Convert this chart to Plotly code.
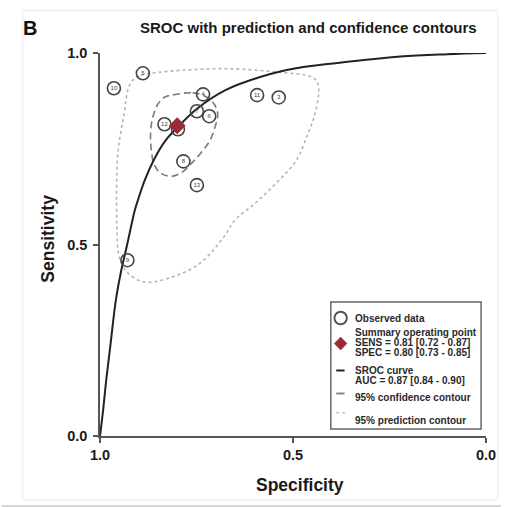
import plotly.graph_objects as go

# ---- data -------------------------------------------------------------
study_labels = ["10", "5", "4", "7", "6", "12", "1", "8", "13", "11", "3", "9"]
spec_obs = [0.964, 0.889, 0.733, 0.749, 0.717, 0.833, 0.798, 0.784, 0.749, 0.593, 0.537, 0.929]
sens_obs = [0.908, 0.947, 0.892, 0.848, 0.835, 0.814, 0.801, 0.717, 0.655, 0.890, 0.884, 0.459]

summary_spec = 0.80
summary_sens = 0.81

# SROC curve (specificity, sensitivity)
sroc_spec = [1.000, 0.992, 0.984, 0.973, 0.959, 0.945, 0.930, 0.910, 0.902, 0.884, 0.859,
             0.830, 0.798, 0.748, 0.675, 0.583, 0.492, 0.385, 0.222, 0.100, 0.000]
sroc_sens = [0.000, 0.067, 0.145, 0.237, 0.354, 0.432, 0.498, 0.589, 0.615, 0.668, 0.724,
             0.772, 0.807, 0.855, 0.903, 0.938, 0.960, 0.974, 0.991, 0.997, 1.000]

# 95% confidence region around the summary point
conf_spec = [0.814, 0.760, 0.724, 0.702, 0.695, 0.702, 0.715, 0.733, 0.760, 0.787, 0.814,
             0.841, 0.859, 0.867, 0.869, 0.863, 0.849, 0.832, 0.814]
conf_sens = [0.890, 0.896, 0.885, 0.863, 0.838, 0.807, 0.772, 0.746, 0.715, 0.689, 0.678,
             0.685, 0.707, 0.746, 0.790, 0.833, 0.868, 0.885, 0.890]

# 95% prediction region
pred_spec = [0.921, 0.894, 0.862, 0.787, 0.671, 0.537, 0.451, 0.436, 0.434, 0.444, 0.461,
             0.492, 0.545, 0.599, 0.652, 0.679, 0.742, 0.814, 0.885, 0.930, 0.950, 0.956,
             0.957, 0.957, 0.953, 0.939, 0.921]
pred_sens = [0.921, 0.942, 0.948, 0.955, 0.959, 0.950, 0.937, 0.921, 0.890, 0.838, 0.790,
             0.719, 0.659, 0.607, 0.562, 0.520, 0.450, 0.415, 0.402, 0.428, 0.467, 0.537,
             0.589, 0.659, 0.746, 0.833, 0.921]

tick_vals = [1.0, 0.5, 0.0]
tick_text = ["1.0", "0.5", "0.0"]

legend_lines = [
    ("Observed data", 318.3),
    ("Summary operating point", 332.0),
    ("SENS = 0.81 [0.72 - 0.87]", 342.0),
    ("SPEC = 0.80 [0.73 - 0.85]", 352.0),
    ("SROC curve", 370.5),
    ("AUC = 0.87 [0.84 - 0.90]", 380.5),
    ("95% confidence contour", 397.3),
    ("95% prediction contour", 420.7),
]

# ---- layout geometry (pixels) ----------------------------------------
W, H = 508, 507
ML, MR, MT, MB = 100, 15, 53, 71
PW, PH = W - ML - MR, H - MT - MB
FONT = "Liberation Sans, Arial, Helvetica, sans-serif"


def px(x):
    return (x - ML) / PW


def py(y):
    return (H - MB - y) / PH


fig = go.Figure()

fig.add_trace(go.Scatter(
    x=pred_spec, y=pred_sens, mode="lines", line_shape="spline",
    line=dict(color="#b4b4b4", width=1.6, dash="dot"), hoverinfo="skip"))
fig.add_trace(go.Scatter(
    x=conf_spec, y=conf_sens, mode="lines", line_shape="spline",
    line=dict(color="#7a7a7a", width=1.6, dash="7px,4px"), hoverinfo="skip"))
fig.add_trace(go.Scatter(
    x=sroc_spec, y=sroc_sens, mode="lines", line_shape="spline",
    line=dict(color="#222222", width=2), hoverinfo="skip"))
fig.add_trace(go.Scatter(
    x=spec_obs, y=sens_obs, mode="markers+text", text=study_labels,
    textposition="middle center", textfont=dict(size=6, color="#444", family=FONT),
    marker=dict(symbol="circle-open", size=13, color="#444", line=dict(width=1.6))))
fig.add_trace(go.Scatter(
    x=[summary_spec], y=[summary_sens], mode="markers",
    marker=dict(symbol="diamond", size=13, color="#9c2a36")))

shapes = []
# figure panel border and bottom rule
shapes.append(dict(type="rect", xref="paper", yref="paper",
                   x0=px(21.5), x1=px(505), y0=py(500), y1=py(10.5),
                   line=dict(color="#ececec", width=1)))
shapes.append(dict(type="line", xref="paper", yref="paper",
                   x0=px(0), x1=px(508), y0=py(506), y1=py(506),
                   line=dict(color="#c8c8c8", width=1.5)))
# legend box
shapes.append(dict(type="rect", xref="paper", yref="paper",
                   x0=px(335), x1=px(488), y0=py(429), y1=py(302),
                   line=dict(color="#666", width=1.5), fillcolor="white"))
# legend keys
cx = 345
shapes.append(dict(type="circle", xref="paper", yref="paper",
                   x0=px(cx - 6.3), x1=px(cx + 6.3), y0=py(318 + 6.3), y1=py(318 - 6.3),
                   line=dict(color="#555", width=2)))
dy = 343.5
d = 6.5
shapes.append(dict(type="path", xref="paper", yref="paper",
                   path=(f"M {px(cx)} {py(dy - d)} L {px(cx + d)} {py(dy)} "
                         f"L {px(cx)} {py(dy + d)} L {px(cx - d)} {py(dy)} Z"),
                   fillcolor="#9c2a36", line=dict(color="#9c2a36", width=0.5)))
shapes.append(dict(type="line", xref="paper", yref="paper",
                   x0=px(340.5), x1=px(349), y0=py(370.5), y1=py(370.5),
                   line=dict(color="#222", width=2)))
shapes.append(dict(type="line", xref="paper", yref="paper",
                   x0=px(340.5), x1=px(349), y0=py(393.5), y1=py(393.5),
                   line=dict(color="#888", width=2)))
shapes.append(dict(type="line", xref="paper", yref="paper",
                   x0=px(340.5), x1=px(350), y0=py(412.7), y1=py(412.7),
                   line=dict(color="#c4c4c4", width=1.6, dash="dot")))

annotations = []
for txt, yy in legend_lines:
    annotations.append(dict(xref="paper", yref="paper", x=px(357.5), y=py(yy),
                            xanchor="left", yanchor="middle", showarrow=False, text=f"<b>{txt}</b>",
                            font=dict(family=FONT, size=10, color="#2a2a2a")))

annotations.append(dict(xref="paper", yref="paper", x=px(312), y=py(27.7),
                        xanchor="center", yanchor="middle", showarrow=False,
                        text="<b>SROC with prediction and confidence contours</b>",
                        font=dict(family=FONT, size=15, color="#1a1a1a")))
annotations.append(dict(xref="paper", yref="paper", x=px(28.5), y=py(28),
                        xanchor="center", yanchor="middle", showarrow=False, text="<b>B</b>",
                        font=dict(family=FONT, size=20, color="#111")))
annotations.append(dict(xref="paper", yref="paper", x=px(303.5), y=py(485),
                        xanchor="center", yanchor="middle", showarrow=False, text="<b>Specificity</b>",
                        font=dict(family=FONT, size=17.5, color="#1a1a1a")))
annotations.append(dict(xref="paper", yref="paper", x=px(46.7), y=py(239),
                        xanchor="center", yanchor="middle", showarrow=False, text="<b>Sensitivity</b>",
                        textangle=-90, font=dict(family=FONT, size=17.5, color="#1a1a1a")))

axis_common = dict(
    showgrid=False, zeroline=False, showline=True, linecolor="#555", linewidth=1.5,
    ticks="outside", ticklen=5, tickwidth=1.5, tickcolor="#555",
    tickvals=tick_vals, ticktext=tick_text,
    tickfont=dict(family=FONT, size=14.5, color="#1a1a1a", weight="bold"),
)

fig.update_layout(
    width=W, height=H,
    margin=dict(l=ML, r=MR, t=MT, b=MB),
    paper_bgcolor="white", plot_bgcolor="white",
    showlegend=False,
    xaxis=dict(range=[1, 0], **axis_common),
    yaxis=dict(range=[0, 1], ticklabelstandoff=3, **axis_common),
    shapes=shapes,
    annotations=annotations,
)

fig.write_html("out.html")
